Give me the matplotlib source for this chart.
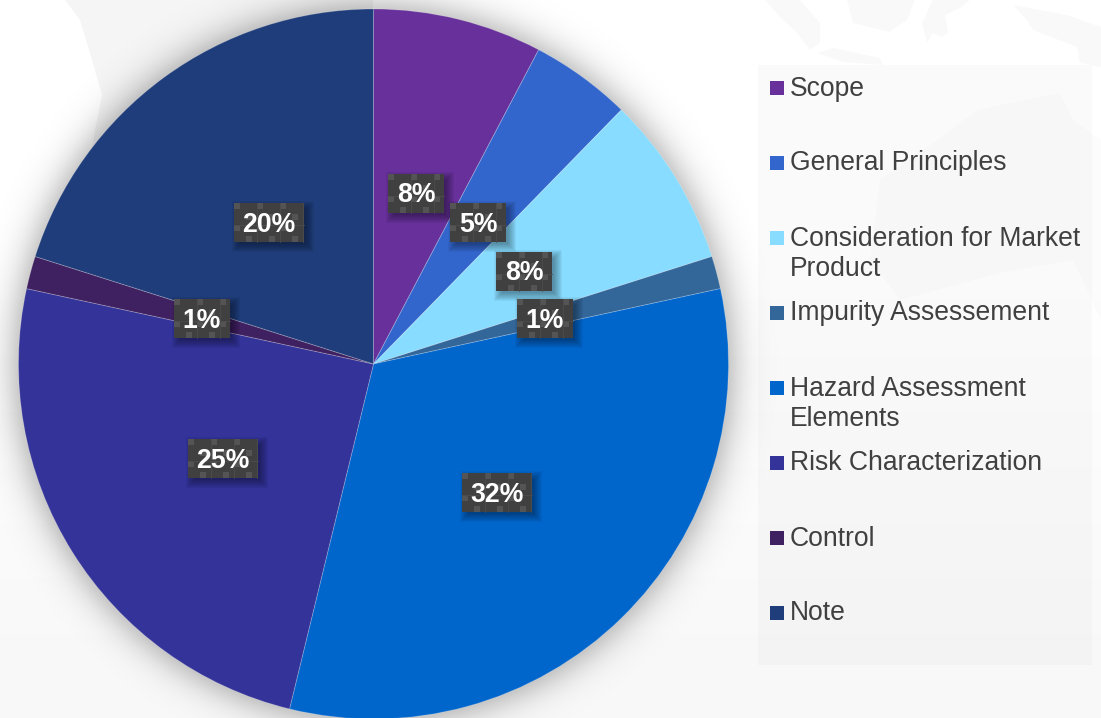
import numpy as np
import matplotlib
matplotlib.use("Agg")
import matplotlib.pyplot as plt
from matplotlib.patches import Polygon, Rectangle

categories = ["Scope", "General Principles", "Consideration for Market\nProduct",
              "Impurity Assessement", "Hazard Assessment\nElements",
              "Risk Characterization", "Control", "Note"]
shares = [7.7, 4.6, 7.8, 1.49, 32.2, 24.6, 1.49, 20.1]
colors = ["#67309A", "#3366CC", "#87DCFF", "#336699",
          "#0066CC", "#333399", "#3F2060", "#1F3D7A"]

W, H = 1101, 718
PIE_X, PIE_Y, PIE_R = 373.5, 364, 355
LABEL_CENTERS = [(416, 193), (478, 222), (524, 271), (545, 318),
                 (497, 492), (223, 458), (202, 318), (269, 222)]
LEGEND_ROWS = [87, 162, 237, 312, 387, 462, 537, 612]
INK = "#404040"

# Faint world-map landmasses behind the chart: outline and strength
LAND = [
    ([(65, 0), (80, 20), (92, 60), (102, 95), (95, 130), (92, 150), (200, 200), (373, 100), (373, 0)], 0.04),
    ([(765, 0), (780, 17), (797, 33), (810, 50), (820, 43), (820, 23), (800, 0)], 0.024),
    ([(847, 0), (853, 23), (890, 32), (907, 20), (915, 0)], 0.024),
    ([(933, 0), (922, 23), (927, 43), (933, 33), (942, 37), (948, 33), (945, 15), (960, 8), (970, 0)], 0.024),
    ([(817, 53), (833, 48), (880, 58), (883, 65), (843, 62)], 0.024),
    ([(1013, 5), (1067, 15), (1101, 27), (1101, 67), (1080, 63), (1077, 47), (1033, 30), (1027, 20)], 0.024),
    ([(880, 180), (947, 133), (977, 110), (1010, 103), (1060, 93), (1073, 120), (1101, 140),
      (1101, 320), (1073, 260), (1000, 273), (900, 300), (870, 260)], 0.012),
]

plt.rcParams["font.family"] = ["Liberation Sans", "DejaVu Sans"]
fig = plt.figure(figsize=(W / 100, H / 100), dpi=100)
ax = fig.add_axes([0, 0, 1, 1])


def flip(y):
    return H - y


# Backdrop: white fading to a pale grey towards the bottom
grad = np.clip((np.arange(H) - 300) / 340, 0, 1)
shade = 1 - 0.024 * grad
ax.imshow(shade[:, None, None] * np.ones((H, 1, 3)), extent=(0, W, 0, H), origin="upper",
          aspect="auto", zorder=0, interpolation="bilinear")
for poly, strength in LAND:
    ax.add_patch(Polygon([(x, flip(y)) for x, y in poly], closed=True, fc="#000000",
                         alpha=strength, lw=0, zorder=1))

# Legend panel
ax.add_patch(Rectangle((758, flip(665)), 334, 600, fc="#000000", alpha=0.018, lw=0, zorder=2))

# Soft shadow round the pie
xx, yy = np.meshgrid(np.arange(W) + 0.5, np.arange(H) + 0.5)
dist = np.hypot(xx - PIE_X, yy - PIE_Y) - PIE_R
halo = np.zeros((H, W, 4))
halo[..., 3] = np.where(dist > -3, 0.2 * np.exp(-(np.clip(dist, 0, None) / 17.0) ** 1.3), 0)
ax.imshow(halo, extent=(0, W, 0, H), origin="upper", aspect="auto", zorder=3)

wedges, _ = ax.pie(shares, colors=colors, startangle=90, counterclock=False,
                   center=(PIE_X, flip(PIE_Y)), radius=PIE_R, frame=True,
                   wedgeprops=dict(edgecolor=(1, 1, 1, 0.2), linewidth=0.7, zorder=4))
ax.set_xlim(0, W)
ax.set_ylim(0, H)
ax.set_aspect("auto")
ax.axis("off")

# Percentage tags on a dark textured plate with a drop shadow
total = sum(shares)
for share, (cx, cy) in zip(shares, LABEL_CENTERS):
    text = f"{round(share / total * 100)}%"
    bw = 70 if len(text) == 3 else 56
    bh = 39
    left, top = cx - bw / 2, cy - bh / 2
    for grow in range(6, -3, -1):
        ax.add_patch(Rectangle((left + 4 - grow, flip(top + bh + 4 + grow)), bw + 2 * grow,
                               bh + 2 * grow, fc="#000000", alpha=0.045, lw=0, zorder=5))
    ax.add_patch(Rectangle((left, flip(top + bh)), bw, bh, fc="#404040", lw=0, zorder=6))
    for row in range(4):
        for col in range(4):
            sx = col * 23 + (12 if row % 2 else 0)
            sy = row * 11
            if sx + 6 <= bw and sy + 6 <= bh:
                ax.add_patch(Rectangle((left + sx, flip(top + sy + 6)), 6, 6,
                                       fc="#545454", lw=0, zorder=7))
    for col in range(1, 4):
        if col * 23 < bw:
            ax.plot([left + col * 23] * 2, [flip(top), flip(top + bh)], color="#4c4c4c",
                    lw=0.6, zorder=7)
    ax.plot([left, left + bw], [flip(top + 22)] * 2, color="#4c4c4c", lw=0.6, zorder=7)
    ax.text(cx, flip(cy + 2.5), text, color="white", fontsize=19.2, fontweight="bold",
            ha="center", va="center", zorder=8)

# Legend entries
for name, color, row in zip(categories, colors, LEGEND_ROWS):
    ax.add_patch(Rectangle((770, flip(row + 8)), 14, 14, fc=color, lw=0, zorder=6))
    first_line, *rest = name.split("\n")
    ax.text(790, flip(row + 1.5), first_line, color=INK, fontsize=19.1, ha="left", va="center", zorder=6)
    if rest:
        ax.text(790, flip(row + 32.5), rest[0], color=INK, fontsize=19.1, ha="left", va="center", zorder=6)

fig.savefig("out.png", dpi=100)
